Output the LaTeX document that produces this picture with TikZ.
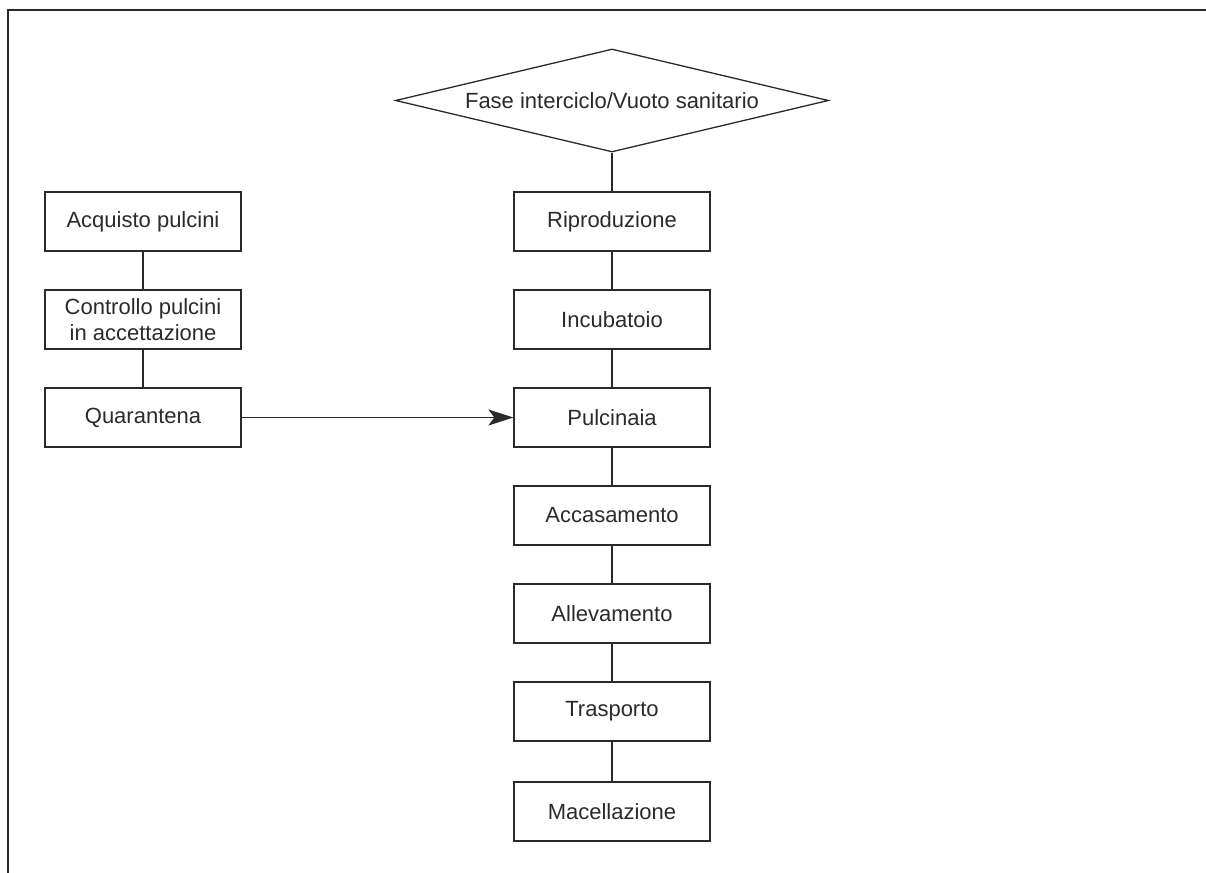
\documentclass[tikz,border=0pt]{standalone}
\usepackage{fontspec}
\setmainfont{Liberation Sans}
\usepackage{xcolor}
\usetikzlibrary{shapes.geometric,arrows.meta}

\definecolor{inkgray}{HTML}{2B2A2A}

\begin{document}
\begin{tikzpicture}[x=0.5pt, y=-0.5pt,
    font=\fontsize{11}{13}\selectfont, text=inkgray,
    stagebox/.style={draw=inkgray, rectangle, line width=0.65pt, minimum width=98pt, minimum height=29.5pt, align=center, inner sep=2pt},
    phasediamond/.style={draw=inkgray, diamond, line width=0.65pt, aspect=4.2, minimum width=216.5pt, minimum height=51.5pt, inner sep=0pt},
    link/.style={draw=inkgray, line width=0.65pt},
    flow/.style={link, -{Stealth[length=12.5pt, width=8pt, inset=3pt]}}]
            \useasboundingbox (0,0) rectangle (1206,873);
            \draw[inkgray, line width=1pt] (8,873) -- (8,10) -- (1206,10);

            \node[phasediamond] (vuoto) at (612,100.5) {Fase interciclo/Vuoto sanitario};

            \node[stagebox] (ripro) at (612,221.5) {Riproduzione};
            \node[stagebox] (incub) at (612,319.5) {Incubatoio};
            \node[stagebox] (pulcinaia) at (612,417.5) {Pulcinaia};
            \node[stagebox] (accas) at (612,515.5) {Accasamento};
            \node[stagebox] (allev) at (612,613.5) {Allevamento};
            \node[stagebox] (trasp) at (612,711.5) {Trasporto};
            \node[stagebox] (macel) at (612,811.5) {Macellazione};

            \node[stagebox] (acquisto) at (143,221.5) {Acquisto pulcini};
            \node[stagebox] (controllo) at (143,319.5) {Controllo pulcini\\in accettazione};
            \node[stagebox] (quarant) at (143,417.5) {Quarantena};

            \draw[link] (vuoto) -- (ripro);
            \draw[link] (ripro) -- (incub);
            \draw[link] (incub) -- (pulcinaia);
            \draw[link] (pulcinaia) -- (accas);
            \draw[link] (accas) -- (allev);
            \draw[link] (allev) -- (trasp);
            \draw[link] (trasp) -- (macel);

            \draw[link] (acquisto) -- (controllo);
            \draw[link] (controllo) -- (quarant);

            \draw[flow] (quarant) -- (pulcinaia);
        \end{tikzpicture}
\end{document}
